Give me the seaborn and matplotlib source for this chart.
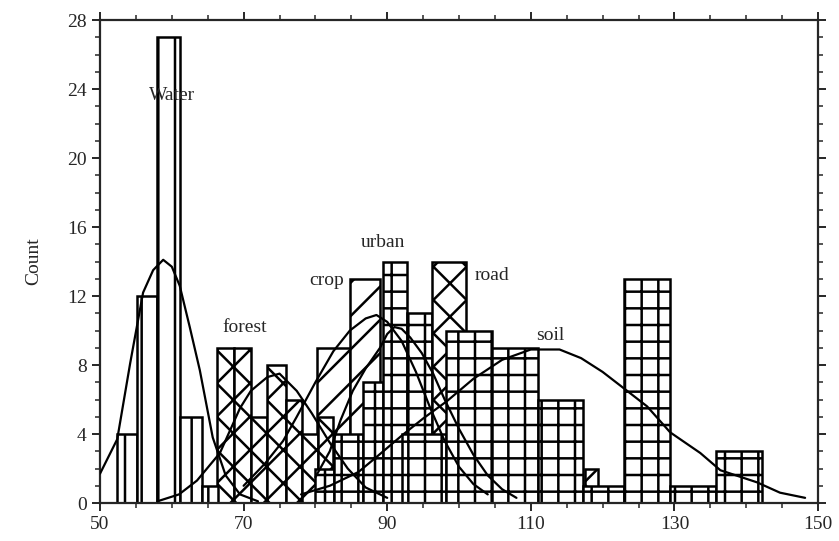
import numpy as np
import pandas as pd
import matplotlib
matplotlib.use("Agg")
import matplotlib.pyplot as plt
from matplotlib.ticker import MultipleLocator
import seaborn as sns

# histogram bins (edges) and counts for each class
water_edges = [52.4, 55.2, 58.0, 61.2, 64.2, 66.5]
water_counts = [4, 12, 27, 5, 1]

forest_edges = [66.3, 68.6, 71.0, 73.3, 75.9, 78.1, 80.4, 82.5]
forest_counts = [9, 9, 5, 8, 6, 4, 5]

crop_edges = [80.2, 84.8, 89.0]
crop_counts = [9, 13]

urban_edges = [79.9, 82.6, 86.6, 89.4, 92.7, 96.2]
urban_counts = [2, 4, 7, 14, 11]

road_edges = [96.2, 101.0, 117.5, 119.3]
road_counts = [14, 0, 2]

soil_edges = [92.1, 98.2, 104.6, 111.0, 117.2, 123.0, 129.4, 135.8, 142.2]
soil_counts = [4, 10, 9, 6, 1, 13, 1, 3]

# fitted curves
water_cx = [50, 52.4, 54.2, 56, 57.4, 58.8, 60, 61.1, 62.5, 63.9, 65.7, 67.5, 69.5, 72]
water_cy = [1.7, 3.7, 8.1, 12.2, 13.5, 14.1, 13.7, 12.6, 10.2, 7.7, 3.8, 1.6, 0.5, 0.1]

forest_cx = [58, 61, 63.5, 66.7, 69.5, 71, 73.3, 75, 77.4, 79.5, 82, 84.5, 87, 90]
forest_cy = [0.1, 0.5, 1.3, 2.9, 5.5, 6.5, 7.3, 7.5, 6.5, 5.2, 3.5, 2.0, 0.9, 0.3]

crop_cx = [70, 73, 75.5, 77.4, 80, 82.5, 84.8, 87, 88.5, 90, 92, 94, 96, 98, 100, 102, 104]
crop_cy = [1.0, 2.3, 3.6, 5.0, 7.0, 8.8, 10.0, 10.7, 10.9, 10.5, 9.4, 7.6, 5.5, 3.6, 2.1, 1.1, 0.5]

urban_cx = [80, 82, 83.5, 85.2, 87, 89, 90, 91, 92, 93.2, 94.8, 96.4, 98, 100, 102, 104, 106, 108]
urban_cy = [1.5, 3.0, 4.8, 6.5, 7.8, 9.0, 9.8, 10.2, 10.1, 9.6, 8.7, 7.5, 6.0, 4.3, 2.8, 1.6, 0.8, 0.3]

soil_cx = [78, 82, 86, 88.6, 92, 95, 98.3, 102, 106, 110, 114, 117, 120, 122.8, 126.2, 129.4,
           133.6, 136.4, 141.5, 144.7, 148.2]
soil_cy = [0.5, 1.0, 1.8, 2.7, 3.9, 4.9, 5.9, 7.2, 8.3, 8.9, 8.9, 8.4, 7.6, 6.7, 5.6, 4.1,
           2.9, 1.9, 1.2, 0.6, 0.3]

class_labels = ["Water", "forest", "crop", "urban", "road", "soil"]
label_x = [60.0, 70.2, 81.6, 89.4, 104.6, 112.7]
label_y = [23.65, 10.2, 12.9, 15.1, 13.2, 9.7]

sns.set_style("ticks")
plt.rcParams["font.family"] = ["Liberation Serif", "DejaVu Serif"]
plt.rcParams["hatch.linewidth"] = 1.8
plt.rcParams["hatch.color"] = "black"

fig = plt.figure(figsize=(8.39, 5.41), dpi=100)
ax = fig.add_axes([0.1192, 0.0702, 0.8558, 0.8928])

# draw order: lower layers first
layers = [
    (crop_edges, crop_counts, "/", 1.0),
    (forest_edges, forest_counts, "x", 1.1),
    (water_edges, water_counts, "|", 1.2),
    (urban_edges, urban_counts, "+", 1.3),
    (road_edges, road_counts, "x", 1.4),
    (soil_edges, soil_counts, "+", 1.5),
]
for edges, counts, hatch, z in layers:
    e = np.array(edges)
    df = pd.DataFrame({"value": (e[:-1] + e[1:]) / 2, "n": counts})
    n_before = len(ax.patches)
    sns.histplot(data=df, x="value", weights="n", bins=list(edges), ax=ax,
                 color="white", edgecolor="black", linewidth=1.8, alpha=1)
    for p in ax.patches[n_before:]:
        p.set_hatch(hatch)
        p.set_zorder(z)
        if p.get_height() == 0:
            p.set_visible(False)

for cx, cy in [(water_cx, water_cy), (forest_cx, forest_cy), (crop_cx, crop_cy),
               (urban_cx, urban_cy), (soil_cx, soil_cy)]:
    sns.lineplot(x=cx, y=cy, ax=ax, color="black", linewidth=1.6, zorder=3)

for lab, tx, ty in zip(class_labels, label_x, label_y):
    ax.text(tx, ty, lab, ha="center", va="center", fontsize=14, zorder=4)

ax.set_xlim(50, 150)
ax.set_ylim(0, 28)
ax.set_xticks(np.arange(50, 151, 20))
ax.set_yticks(np.arange(0, 29, 4))
ax.xaxis.set_minor_locator(MultipleLocator(5))
ax.yaxis.set_minor_locator(MultipleLocator(1))
ax.tick_params(which="both", direction="out", top=True, right=True,
               labeltop=False, labelright=False, labelsize=14)
ax.tick_params(which="major", length=6, width=1.4)
ax.tick_params(which="minor", length=3.5, width=1.1)
for s in ax.spines.values():
    s.set_visible(True)
    s.set_linewidth(1.6)
ax.set_xlabel("")
ax.set_ylabel("Count", fontsize=14, labelpad=18)

fig.savefig("out.png", dpi=100)
